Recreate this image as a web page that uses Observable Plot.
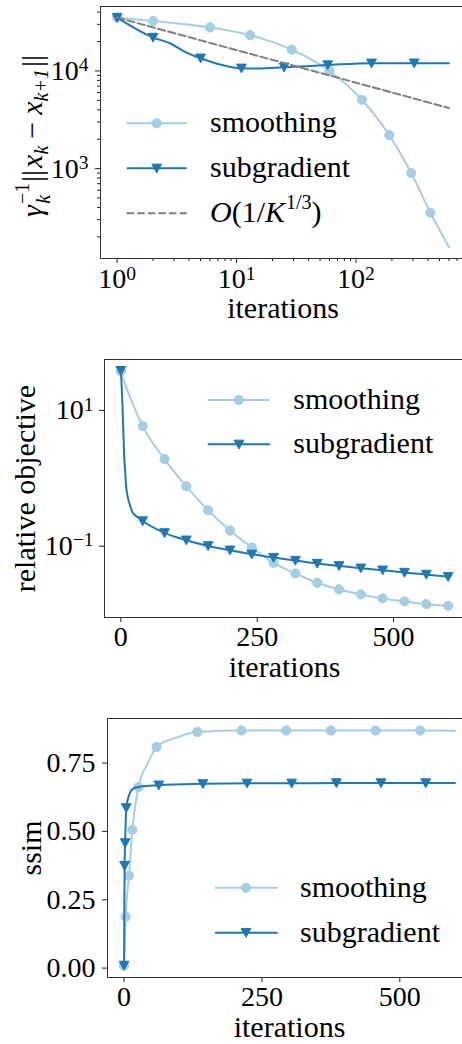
<!DOCTYPE html>
<html><head><meta charset="utf-8">
<script src="https://cdn.jsdelivr.net/npm/d3@7"></script>
<script src="https://cdn.jsdelivr.net/npm/@observablehq/plot@0.6"></script>
<style>
html,body{margin:0;padding:0;background:#fff;overflow:hidden;}
#root{width:462px;height:1044px;overflow:hidden;position:relative;background:#fff;}
#root svg{display:block;}
</style></head><body><div id="root"></div>
<script>
// ---------- data ----------
const seriesNames = ["smoothing", "subgradient"];
const xLabel = "iterations";
const yLabels = ["relative objective", "ssim"];

// Panel 1 (log-log)
const p1SmoothIter = [1, 2, 6, 13, 29, 60, 112, 190, 290, 420, 600];
const p1SmoothVal  = [35200, 32500, 27900, 23200, 16500, 10000, 5070, 2200, 900, 353, 157];
const p1SmoothMarks = [1, 2, 6, 13, 29, 60, 112, 190, 290, 420];
const p1SubIter = [1, 2, 2.8, 3.7, 5, 7, 11, 15, 25, 58, 135, 307, 600];
const p1SubVal  = [35200, 22000, 19100, 15700, 13500, 11800, 10650, 10600, 10900, 11500, 12000, 12000, 12000];
const p1SubMarks = [1, 2, 5, 11, 25, 58, 135, 307];
const p1RateIter = [1, 600];
const p1RateVal  = [35200, 4170];
const p1XTicks = [1, 10, 100];
const p1XMinor = [2,3,4,5,6,7,8,9,20,30,40,50,60,70,80,90,200,300,400,500,600,700,800];
const p1YTicks = [1000, 10000];
const p1YMinor = [200,300,400,500,600,700,800,900,2000,3000,4000,5000,6000,7000,8000,9000,20000,30000,40000];

// Panel 2 (log y)
const p2SmoothIter = [0, 4, 9, 18, 40, 80, 120, 160, 200, 240, 280, 320, 360, 400, 440, 480, 520, 560, 600];
const p2SmoothVal  = [37.8, 29, 23, 14.9, 5.87, 1.92, 0.762, 0.338, 0.170, 0.0957, 0.0569, 0.0397, 0.0289, 0.0231, 0.0195, 0.0170, 0.0154, 0.0140, 0.01325];
const p2SmoothMarks = [0, 40, 80, 120, 160, 200, 240, 280, 320, 360, 400, 440, 480, 520, 560, 600];
const p2SubIter = [0, 3, 5, 6, 8, 9, 12, 16, 21, 30, 40, 80, 120, 160, 200, 240, 280, 320, 360, 400, 440, 480, 520, 560, 600];
const p2SubVal  = [38.5, 11.8, 3.84, 2.18, 1.24, 0.88, 0.56, 0.42, 0.319, 0.27, 0.235, 0.157, 0.1225, 0.101, 0.0873, 0.0762, 0.068, 0.0615, 0.0556, 0.0513, 0.0474, 0.0443, 0.041, 0.0384, 0.0354];
const p2SubMarks = [0, 40, 80, 120, 160, 200, 240, 280, 320, 360, 400, 440, 480, 520, 560, 600];
const p2XTicks = [0, 250, 500];
const p2YTicks = [0.1, 10];

// Panel 3 (linear)
const p3SmoothIter = [0, 3, 9, 15, 26, 42, 59, 97, 133, 213, 294, 375, 456, 537, 600];
const p3SmoothVal  = [0.008, 0.188, 0.338, 0.506, 0.662, 0.745, 0.809, 0.845, 0.864, 0.869, 0.869, 0.869, 0.869, 0.869, 0.868];
const p3SmoothMarks = [0, 3, 9, 15, 26, 59, 133, 213, 294, 375, 456, 537];
const p3SubIter = [0, 1, 2, 4, 9, 18, 30, 63, 143, 223, 304, 385, 466, 547, 600];
const p3SubVal  = [0.01, 0.375, 0.458, 0.586, 0.632, 0.658, 0.664, 0.669, 0.674, 0.676, 0.676, 0.677, 0.677, 0.677, 0.677];
const p3SubMarks = [0, 1, 2, 4, 63, 143, 223, 304, 385, 466, 547];
const p3XTicks = [0, 250, 500];
const p3YTicks = [0, 0.25, 0.5, 0.75];

// ---------- styling ----------
const C_SMOOTH = "#a6cee3";
const C_SUB = "#1f78b4";
const C_RATE = "#7f7f7f";
const FONT = "Liberation Serif, DejaVu Serif, serif";
const TXT = 30;   // label / legend size
const SUB = 20;   // sub/superscript size

const rows = (xs, ys) => xs.map((x, i) => ({x, y: ys[i]}));
const marks = (xs, ys, m) => rows(xs, ys).filter(d => m.includes(d.x));

const triDown = {
  draw(ctx, size) {
    const r = Math.sqrt(size / Math.PI);
    ctx.moveTo(-r, -r * 0.85);
    ctx.lineTo(r, -r * 0.85);
    ctx.lineTo(0, r * 0.95);
    ctx.closePath();
  }
};

function seriesMarks(sx, sy, sm, bx, by, bm) {
  return [
    Plot.line(rows(sx, sy), {x: "x", y: "y", stroke: C_SMOOTH, strokeWidth: 2, curve: "monotone-x"}),
    Plot.dot(marks(sx, sy, sm), {x: "x", y: "y", r: 4.6, fill: C_SMOOTH, stroke: C_SMOOTH, strokeWidth: 1}),
    Plot.line(rows(bx, by), {x: "x", y: "y", stroke: C_SUB, strokeWidth: 2, curve: "monotone-x"}),
    Plot.dot(marks(bx, by, bm), {x: "x", y: "y", r: 4.9, symbol: triDown, fill: C_SUB, stroke: C_SUB, strokeWidth: 1})
  ];
}

const sup = e => "10^" + String(Math.round(Math.log10(e))).replace("-", "\u2212");

function supTicks(svg) {
  d3.select(svg).selectAll("text").each(function () {
    const m = /^10\^(.+)$/.exec(this.textContent);
    if (m) {
      this.textContent = "10";
      d3.select(this).append("tspan").attr("dy", "-0.45em").attr("font-size", "0.7em").text(m[1]);
    }
  });
}

function addLegend(svg, items, o) {
  const g = d3.select(svg).append("g").attr("font-family", FONT).attr("font-size", TXT).attr("text-anchor", "start");
  items.forEach((it, i) => {
    const y = o.y0 + i * o.gap;
    g.append("line").attr("x1", o.x0).attr("x2", o.x1).attr("y1", y).attr("y2", y)
      .attr("stroke", it.color).attr("stroke-width", 2).attr("stroke-dasharray", it.dash || null);
    if (it.marker === "circle") {
      g.append("circle").attr("cx", o.xm).attr("cy", y).attr("r", 4.6).attr("fill", it.color).attr("stroke", it.color);
    } else if (it.marker === "tri") {
      const r = 4.9;
      g.append("path").attr("d", `M${o.xm - r},${y - r * 0.85}L${o.xm + r},${y - r * 0.85}L${o.xm},${y + r * 0.95}Z`)
        .attr("fill", it.color).attr("stroke", it.color);
    }
    const t = g.append("text").attr("x", o.xt).attr("y", y + 9).attr("fill", "#000");
    if (it.rate) {
      t.append("tspan").attr("font-style", "italic").text("O");
      t.append("tspan").text("(1/");
      t.append("tspan").attr("font-style", "italic").text("K");
      t.append("tspan").attr("font-size", SUB).attr("dy", -13).attr("dx", 1).text("1/3");
      t.append("tspan").attr("dy", 13).text(")");
    } else {
      t.text(it.label);
    }
  });
}

function mathLabel(svg, cx, cy) {
  const t = d3.select(svg).append("text")
    .attr("transform", `translate(${cx},${cy}) rotate(-90)`)
    .attr("text-anchor", "middle").attr("font-family", FONT).attr("font-size", TXT).attr("fill", "#000");
  t.append("tspan").attr("font-style", "italic").text("γ");
  t.append("tspan").attr("font-size", SUB).attr("dy", -13).attr("dx", 1).text("\u22121");
  t.append("tspan").attr("font-size", SUB).attr("font-style", "italic").attr("dx", -21).attr("dy", 21).text("k");
  t.append("tspan").attr("dx", 13).attr("dy", -8).text("||");
  t.append("tspan").attr("font-style", "italic").attr("dx", 2).text("x");
  t.append("tspan").attr("font-size", SUB).attr("font-style", "italic").attr("dy", 6).text("k");
  t.append("tspan").attr("dy", -6).attr("dx", 7).text("\u2212");
  t.append("tspan").attr("font-style", "italic").attr("dx", 7).text("x");
  t.append("tspan").attr("font-size", SUB).attr("font-style", "italic").attr("dy", 6).text("k+1");
  t.append("tspan").attr("dy", -6).attr("dx", 2).text("||");
}

const baseStyle = {fontFamily: FONT, fontSize: "28px", maxWidth: "none", background: "white", color: "#000"};
const root = document.getElementById("root");

// ---------- Panel 1 ----------
const plot1 = Plot.plot({
  width: 466, height: 330,
  marginLeft: 100, marginRight: 1, marginTop: 6, marginBottom: 72,
  style: baseStyle,
  x: {type: "log", domain: [0.726, 826], axis: null},
  y: {type: "log", domain: [120, 45700], axis: null},
  marks: [
    Plot.axisX(p1XMinor, {tickSize: 3, fill: "none", label: null, stroke: "#222"}),
    Plot.axisX(p1XTicks, {tickSize: 5, tickPadding: 5, tickFormat: sup, label: null, stroke: "#222"}),
    Plot.axisY(p1YMinor, {tickSize: 3, fill: "none", label: null, stroke: "#222"}),
    Plot.axisY(p1YTicks, {tickSize: 5, tickPadding: 7, tickFormat: sup, label: null, stroke: "#222"}),
    ...seriesMarks(p1SmoothIter, p1SmoothVal, p1SmoothMarks, p1SubIter, p1SubVal, p1SubMarks),
    Plot.line(rows(p1RateIter, p1RateVal), {x: "x", y: "y", stroke: C_RATE, strokeWidth: 2, strokeDasharray: "7.4,3.2"}),
    Plot.frame({stroke: "#333"}),
    Plot.text([xLabel], {frameAnchor: "bottom", textAnchor: "middle", lineAnchor: "bottom", dy: 59, text: d => d, fontSize: TXT})
  ]
});
supTicks(plot1);
mathLabel(plot1, 42, 136);
addLegend(plot1, [
  {label: seriesNames[0], color: C_SMOOTH, marker: "circle"},
  {label: seriesNames[1], color: C_SUB, marker: "tri"},
  {label: "O(1/K^1/3)", color: C_RATE, dash: "7.4,3.2", rate: true}
], {x0: 126.7, x1: 186.7, xm: 156.7, xt: 210, y0: 123.3, gap: 45});
root.appendChild(plot1);

// ---------- Panel 2 ----------
const plot2 = Plot.plot({
  width: 466, height: 356,
  marginLeft: 104, marginRight: 2, marginTop: 29, marginBottom: 69,
  style: baseStyle,
  x: {domain: [-30, 630], axis: null},
  y: {type: "log", domain: [0.00891, 56.2], axis: null},
  marks: [
    Plot.axisX(p2XTicks, {tickSize: 5, tickPadding: 4, label: null, stroke: "#222"}),
    Plot.axisY(p2YTicks, {tickSize: 5, tickPadding: 6, tickFormat: sup, label: null, stroke: "#222"}),
    ...seriesMarks(p2SmoothIter, p2SmoothVal, p2SmoothMarks, p2SubIter, p2SubVal, p2SubMarks),
    Plot.frame({stroke: "#333"}),
    Plot.text([xLabel], {frameAnchor: "bottom", textAnchor: "middle", lineAnchor: "bottom", dy: 59, text: d => d, fontSize: TXT}),
    Plot.text([yLabels[0]], {frameAnchor: "left", textAnchor: "middle", rotate: -90, dx: -79, text: d => d, fontSize: TXT})
  ]
});
supTicks(plot2);
addLegend(plot2, [
  {label: seriesNames[0], color: C_SMOOTH, marker: "circle"},
  {label: seriesNames[1], color: C_SUB, marker: "tri"}
], {x0: 207.7, x1: 270, xm: 239, xt: 293.3, y0: 70, gap: 44.3});
root.appendChild(plot2);

// ---------- Panel 3 ----------
const plot3 = Plot.plot({
  width: 472, height: 358,
  marginLeft: 107, marginRight: 1, marginTop: 32, marginBottom: 67,
  style: baseStyle,
  x: {domain: [-30, 630], axis: null},
  y: {domain: [-0.0344, 0.913], axis: null},
  marks: [
    Plot.axisX(p3XTicks, {tickSize: 5, tickPadding: 4, label: null, stroke: "#222"}),
    Plot.axisY(p3YTicks, {tickSize: 5, tickPadding: 7, tickFormat: d3.format(".2f"), label: null, stroke: "#222"}),
    ...seriesMarks(p3SmoothIter, p3SmoothVal, p3SmoothMarks, p3SubIter, p3SubVal, p3SubMarks),
    Plot.frame({stroke: "#333"}),
    Plot.text([xLabel], {frameAnchor: "bottom", textAnchor: "middle", lineAnchor: "bottom", dy: 59.5, text: d => d, fontSize: TXT}),
    Plot.text([yLabels[1]], {frameAnchor: "left", textAnchor: "middle", rotate: -90, dx: -76, text: d => d, fontSize: TXT})
  ]
});
addLegend(plot3, [
  {label: seriesNames[0], color: C_SMOOTH, marker: "circle"},
  {label: seriesNames[1], color: C_SUB, marker: "tri"}
], {x0: 215, x1: 277.7, xm: 246, xt: 300, y0: 201.7, gap: 45});
root.appendChild(plot3);
</script></body></html>
